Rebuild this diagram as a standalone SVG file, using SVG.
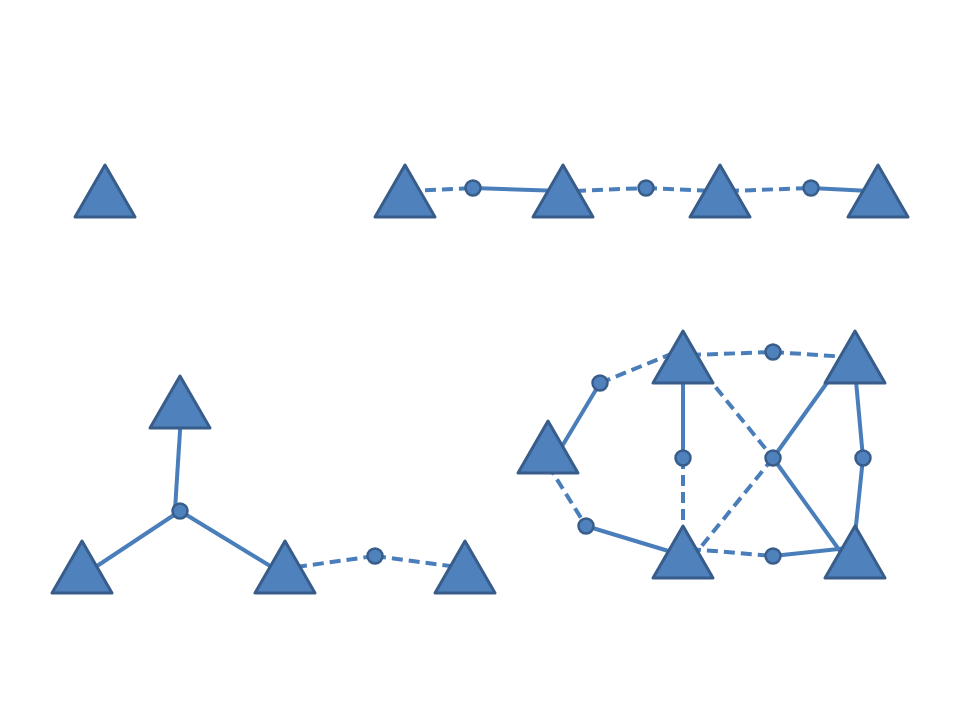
<svg xmlns="http://www.w3.org/2000/svg" width="960" height="720" viewBox="0 0 960 720">
<style>
.t{fill:#4F81BD;stroke:#385D8A;stroke-width:3;stroke-linejoin:round}
.c{fill:#4F81BD;stroke:#385D8A;stroke-width:2.5}
.s{stroke:#4A7EBB;stroke-width:4;fill:none}
.d{stroke:#4A7EBB;stroke-width:4;fill:none;stroke-dasharray:11 6}
</style>
<rect width="960" height="720" fill="#fff"/>
<g id="connectors">
<line class="d" x1="408" y1="191" x2="473" y2="188"/>
<line class="s" x1="473" y1="188" x2="563" y2="191"/>
<line class="d" x1="575" y1="191" x2="646" y2="188"/>
<line class="d" x1="646" y1="188" x2="712" y2="191"/>
<line class="d" x1="728" y1="191" x2="811" y2="188"/>
<line class="s" x1="811" y1="188" x2="870" y2="191"/>
<line class="s" x1="181" y1="415" x2="175" y2="510"/>
<line class="s" x1="180" y1="511" x2="88" y2="572"/>
<line class="s" x1="180" y1="511" x2="280" y2="572"/>
<line class="d" x1="296" y1="567" x2="375" y2="556"/>
<line class="d" x1="375" y1="556" x2="458" y2="567"/>
<line class="s" x1="555" y1="458" x2="600" y2="383"/>
<line class="d" x1="600" y1="383" x2="676" y2="352"/>
<line class="d" x1="690" y1="355" x2="773" y2="352"/>
<line class="d" x1="773" y1="352" x2="848" y2="357"/>
<line class="s" x1="683" y1="370" x2="683" y2="458"/>
<line class="d" x1="683" y1="458" x2="683" y2="530"/>
<line class="d" x1="705" y1="374" x2="773" y2="458"/>
<line class="d" x1="773" y1="458" x2="692" y2="558"/>
<line class="s" x1="834" y1="373" x2="773" y2="458"/>
<line class="s" x1="773" y1="458" x2="845" y2="558"/>
<line class="s" x1="855" y1="370" x2="863" y2="458"/>
<line class="s" x1="863" y1="458" x2="855" y2="535"/>
<line class="d" x1="548" y1="465" x2="586" y2="526"/>
<line class="s" x1="586" y1="526" x2="675" y2="553"/>
<line class="d" x1="690" y1="549" x2="773" y2="556"/>
<line class="s" x1="773" y1="556" x2="848" y2="548"/>
</g>
<g id="n1"><polygon class="t" points="105,165 75,217 135,217"/></g>
<g id="n2"><polygon class="t" points="405,165 375,217 435,217"/></g>
<g id="n3"><circle class="c" cx="473" cy="188" r="7.5"/></g>
<g id="n4"><polygon class="t" points="563,165 533,217 593,217"/></g>
<g id="n5"><circle class="c" cx="646" cy="188" r="7.5"/></g>
<g id="n6"><polygon class="t" points="720,165 690,217 750,217"/></g>
<g id="n7"><circle class="c" cx="811" cy="188" r="7.5"/></g>
<g id="n8"><polygon class="t" points="878,165 848,217 908,217"/></g>
<g id="n9"><polygon class="t" points="180,376 150,428 210,428"/></g>
<g id="n10"><circle class="c" cx="180" cy="511" r="7.5"/></g>
<g id="n11"><polygon class="t" points="82,541 52,593 112,593"/></g>
<g id="n12"><polygon class="t" points="285,541 255,593 315,593"/></g>
<g id="n13"><circle class="c" cx="375" cy="556" r="7.5"/></g>
<g id="n14"><polygon class="t" points="465,541 435,593 495,593"/></g>
<g id="n15"><polygon class="t" points="548,421 518,473 578,473"/></g>
<g id="n16"><polygon class="t" points="683,331 653,383 713,383"/></g>
<g id="n17"><polygon class="t" points="855,331 825,383 885,383"/></g>
<g id="n18"><polygon class="t" points="683,526 653,578 713,578"/></g>
<g id="n19"><polygon class="t" points="855,526 825,578 885,578"/></g>
<g id="n20"><circle class="c" cx="600" cy="383" r="7.5"/></g>
<g id="n21"><circle class="c" cx="773" cy="352" r="7.5"/></g>
<g id="n22"><circle class="c" cx="683" cy="458" r="7.5"/></g>
<g id="n23"><circle class="c" cx="773" cy="458" r="7.5"/></g>
<g id="n24"><circle class="c" cx="863" cy="458" r="7.5"/></g>
<g id="n25"><circle class="c" cx="586" cy="526" r="7.5"/></g>
<g id="n26"><circle class="c" cx="773" cy="556" r="7.5"/></g>
</svg>
